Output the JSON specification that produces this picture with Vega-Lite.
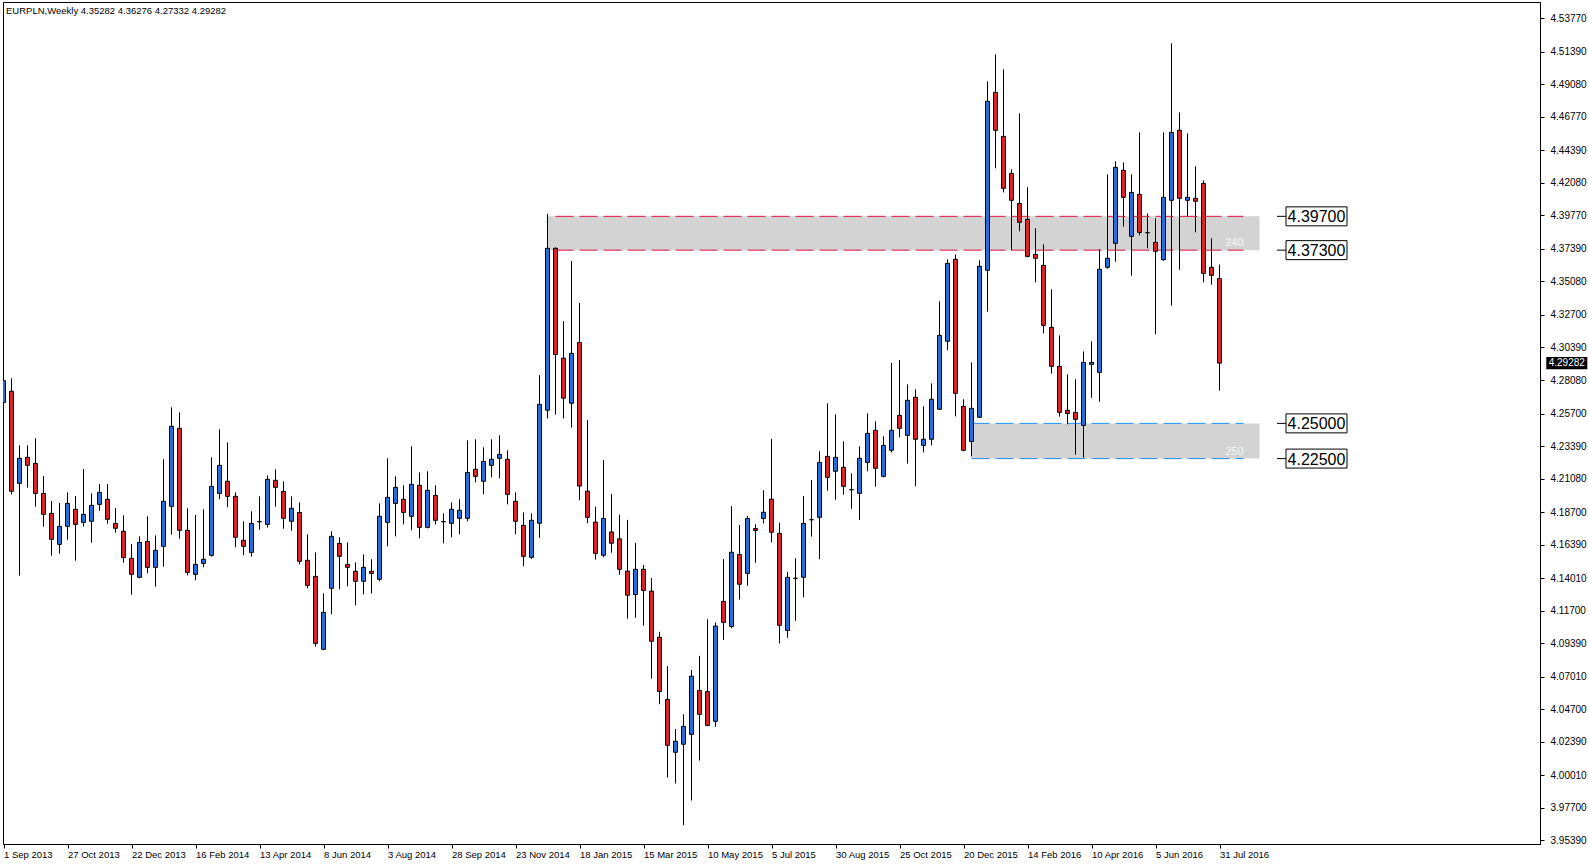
{
  "$schema": "https://vega.github.io/schema/vega-lite/v6.json",
  "width": 1537,
  "height": 842,
  "autosize": {"type": "none"},
  "padding": {"left": 3, "top": 2, "right": 48, "bottom": 22},
  "background": "white",
  "config": {
    "view": {"stroke": "black", "strokeWidth": 1},
    "font": "Liberation Sans",
    "axis": {"labelOverlap": false, "labelBound": false, "labelFlush": false, "grid": false, "tickColor": "black", "domainColor": "black", "labelColor": "black", "labelFont": "Liberation Sans", "tickSize": 4, "title": null, "tickCount": 100},
    "axisY": {"labelFontSize": 10, "labelPadding": 6},
    "axisX": {"labelFontSize": 9.5, "labelPadding": 1, "labelAlign": "left"}
  },
  "title": {"text": "EURPLN,Weekly  4.35282 4.36276 4.27332 4.29282", "anchor": "start", "frame": "group", "offset": -12, "dx": 3, "dy": 9, "fontSize": 9.5, "fontWeight": "normal", "font": "Liberation Sans", "color": "black", "baseline": "alphabetic"},
  "datasets": {
    "candles": [
      {"d":"2013-09-01","o":4.2649,"h":4.3092,"l":4.2465,"c":4.2803},
      {"d":"2013-09-08","o":4.2728,"h":4.2820,"l":4.1996,"c":4.2018},
      {"d":"2013-09-15","o":4.2074,"h":4.2344,"l":4.1419,"c":4.2252},
      {"d":"2013-09-22","o":4.2259,"h":4.2344,"l":4.2044,"c":4.2202},
      {"d":"2013-09-29","o":4.2216,"h":4.2394,"l":4.1909,"c":4.2003},
      {"d":"2013-10-06","o":4.2003,"h":4.2126,"l":4.1767,"c":4.1854},
      {"d":"2013-10-13","o":4.1861,"h":4.1949,"l":4.1561,"c":4.1677},
      {"d":"2013-10-20","o":4.1641,"h":4.1935,"l":4.1575,"c":4.1769},
      {"d":"2013-10-27","o":4.1769,"h":4.2010,"l":4.1674,"c":4.1932},
      {"d":"2013-11-03","o":4.1890,"h":4.1984,"l":4.1525,"c":4.1783},
      {"d":"2013-11-10","o":4.1797,"h":4.2176,"l":4.1767,"c":4.1854},
      {"d":"2013-11-17","o":4.1805,"h":4.2003,"l":4.1653,"c":4.1918},
      {"d":"2013-11-24","o":4.1925,"h":4.2070,"l":4.1880,"c":4.2010},
      {"d":"2013-12-01","o":4.1961,"h":4.2070,"l":4.1788,"c":4.1819},
      {"d":"2013-12-08","o":4.1790,"h":4.1899,"l":4.1724,"c":4.1755},
      {"d":"2013-12-15","o":4.1734,"h":4.1847,"l":4.1511,"c":4.1547},
      {"d":"2013-12-22","o":4.1542,"h":4.1644,"l":4.1284,"c":4.1428},
      {"d":"2013-12-29","o":4.1407,"h":4.1698,"l":4.1400,"c":4.1655},
      {"d":"2014-01-05","o":4.1662,"h":4.1840,"l":4.1435,"c":4.1478},
      {"d":"2014-01-12","o":4.1478,"h":4.1705,"l":4.1341,"c":4.1599},
      {"d":"2014-01-19","o":4.1627,"h":4.2245,"l":4.1483,"c":4.1947},
      {"d":"2014-01-26","o":4.1911,"h":4.2614,"l":4.1710,"c":4.2479},
      {"d":"2014-02-02","o":4.2465,"h":4.2578,"l":4.1681,"c":4.1741},
      {"d":"2014-02-09","o":4.1741,"h":4.1897,"l":4.1421,"c":4.1442},
      {"d":"2014-02-16","o":4.1428,"h":4.1850,"l":4.1386,"c":4.1499},
      {"d":"2014-02-23","o":4.1506,"h":4.1890,"l":4.1478,"c":4.1535},
      {"d":"2014-03-02","o":4.1563,"h":4.2259,"l":4.1555,"c":4.2053},
      {"d":"2014-03-09","o":4.2003,"h":4.2458,"l":4.1961,"c":4.2202},
      {"d":"2014-03-16","o":4.2089,"h":4.2365,"l":4.1904,"c":4.1982},
      {"d":"2014-03-23","o":4.1982,"h":4.2010,"l":4.1620,"c":4.1691},
      {"d":"2014-03-30","o":4.1670,"h":4.1805,"l":4.1563,"c":4.1627},
      {"d":"2014-04-06","o":4.1584,"h":4.1876,"l":4.1554,"c":4.1790},
      {"d":"2014-04-13","o":4.1802,"h":4.1982,"l":4.1745,"c":4.1802},
      {"d":"2014-04-20","o":4.1783,"h":4.2131,"l":4.1760,"c":4.2103},
      {"d":"2014-04-27","o":4.2096,"h":4.2174,"l":4.1909,"c":4.2046},
      {"d":"2014-05-04","o":4.2017,"h":4.2089,"l":4.1752,"c":4.1826},
      {"d":"2014-05-11","o":4.1805,"h":4.1982,"l":4.1738,"c":4.1897},
      {"d":"2014-05-18","o":4.1868,"h":4.1939,"l":4.1499,"c":4.1521},
      {"d":"2014-05-25","o":4.1528,"h":4.1712,"l":4.1329,"c":4.1350},
      {"d":"2014-06-01","o":4.1414,"h":4.1584,"l":4.0915,"c":4.0938},
      {"d":"2014-06-08","o":4.0896,"h":4.1293,"l":4.0890,"c":4.1158},
      {"d":"2014-06-15","o":4.1329,"h":4.1734,"l":4.1144,"c":4.1698},
      {"d":"2014-06-22","o":4.1648,"h":4.1691,"l":4.1322,"c":4.1556},
      {"d":"2014-06-29","o":4.1499,"h":4.1655,"l":4.1343,"c":4.1478},
      {"d":"2014-07-06","o":4.1450,"h":4.1513,"l":4.1208,"c":4.1379},
      {"d":"2014-07-13","o":4.1379,"h":4.1570,"l":4.1286,"c":4.1478},
      {"d":"2014-07-20","o":4.1450,"h":4.1535,"l":4.1293,"c":4.1435},
      {"d":"2014-07-27","o":4.1393,"h":4.1932,"l":4.1379,"c":4.1840},
      {"d":"2014-08-03","o":4.1797,"h":4.2252,"l":4.1627,"c":4.1975},
      {"d":"2014-08-10","o":4.1932,"h":4.2124,"l":4.1698,"c":4.2046},
      {"d":"2014-08-17","o":4.1961,"h":4.2060,"l":4.1783,"c":4.1868},
      {"d":"2014-08-24","o":4.1840,"h":4.2337,"l":4.1741,"c":4.2067},
      {"d":"2014-08-31","o":4.2060,"h":4.2152,"l":4.1684,"c":4.1762},
      {"d":"2014-09-07","o":4.1762,"h":4.2160,"l":4.1755,"c":4.2025},
      {"d":"2014-09-14","o":4.1989,"h":4.2060,"l":4.1783,"c":4.1812},
      {"d":"2014-09-21","o":4.1802,"h":4.1861,"l":4.1648,"c":4.1802},
      {"d":"2014-09-28","o":4.1790,"h":4.1939,"l":4.1691,"c":4.1890},
      {"d":"2014-10-05","o":4.1826,"h":4.1961,"l":4.1712,"c":4.1883},
      {"d":"2014-10-12","o":4.1826,"h":4.2380,"l":4.1805,"c":4.2152},
      {"d":"2014-10-19","o":4.2174,"h":4.2387,"l":4.2081,"c":4.2124},
      {"d":"2014-10-26","o":4.2089,"h":4.2330,"l":4.1996,"c":4.2230},
      {"d":"2014-11-02","o":4.2202,"h":4.2387,"l":4.2117,"c":4.2245},
      {"d":"2014-11-09","o":4.2252,"h":4.2415,"l":4.2110,"c":4.2280},
      {"d":"2014-11-16","o":4.2245,"h":4.2309,"l":4.1925,"c":4.1996},
      {"d":"2014-11-23","o":4.1947,"h":4.2010,"l":4.1712,"c":4.1805},
      {"d":"2014-11-30","o":4.1776,"h":4.1868,"l":4.1485,"c":4.1556},
      {"d":"2014-12-07","o":4.1549,"h":4.1861,"l":4.1538,"c":4.1812},
      {"d":"2014-12-14","o":4.1791,"h":4.2842,"l":4.1688,"c":4.2635},
      {"d":"2014-12-21","o":4.2594,"h":4.3987,"l":4.2535,"c":4.3743},
      {"d":"2014-12-28","o":4.3743,"h":4.3750,"l":4.2563,"c":4.2989},
      {"d":"2015-01-04","o":4.2963,"h":4.3226,"l":4.2535,"c":4.2679},
      {"d":"2015-01-11","o":4.2643,"h":4.3652,"l":4.2470,"c":4.2997},
      {"d":"2015-01-18","o":4.3074,"h":4.3355,"l":4.1954,"c":4.2055},
      {"d":"2015-01-25","o":4.2019,"h":4.2524,"l":4.1791,"c":4.1833},
      {"d":"2015-02-01","o":4.1799,"h":4.1908,"l":4.1533,"c":4.1577},
      {"d":"2015-02-08","o":4.1564,"h":4.2240,"l":4.1549,"c":4.1825},
      {"d":"2015-02-15","o":4.1729,"h":4.1998,"l":4.1582,"c":4.1649},
      {"d":"2015-02-22","o":4.1680,"h":4.1851,"l":4.1425,"c":4.1464},
      {"d":"2015-03-01","o":4.1451,"h":4.1815,"l":4.1113,"c":4.1280},
      {"d":"2015-03-08","o":4.1285,"h":4.1652,"l":4.1120,"c":4.1464},
      {"d":"2015-03-15","o":4.1464,"h":4.1495,"l":4.1064,"c":4.1314},
      {"d":"2015-03-22","o":4.1309,"h":4.1402,"l":4.0687,"c":4.0953},
      {"d":"2015-03-29","o":4.0981,"h":4.1020,"l":4.0506,"c":4.0596},
      {"d":"2015-04-05","o":4.0540,"h":4.0777,"l":3.9985,"c":4.0214},
      {"d":"2015-04-12","o":4.0165,"h":4.0330,"l":3.9943,"c":4.0243},
      {"d":"2015-04-19","o":4.0222,"h":4.0436,"l":3.9647,"c":4.0349},
      {"d":"2015-04-26","o":4.0292,"h":4.0749,"l":3.9822,"c":4.0705},
      {"d":"2015-05-03","o":4.0604,"h":4.0849,"l":4.0106,"c":4.0434},
      {"d":"2015-05-10","o":4.0596,"h":4.1110,"l":4.0349,"c":4.0356},
      {"d":"2015-05-17","o":4.0385,"h":4.1087,"l":4.0346,"c":4.1061},
      {"d":"2015-05-24","o":4.1236,"h":4.1536,"l":4.0963,"c":4.1087},
      {"d":"2015-05-31","o":4.1058,"h":4.1913,"l":4.1045,"c":4.1585},
      {"d":"2015-06-07","o":4.1569,"h":4.1778,"l":4.1249,"c":4.1358},
      {"d":"2015-06-14","o":4.1435,"h":4.1843,"l":4.1347,"c":4.1825},
      {"d":"2015-06-21","o":4.1753,"h":4.1784,"l":4.1510,"c":4.1740},
      {"d":"2015-06-28","o":4.1825,"h":4.2026,"l":4.1789,"c":4.1869},
      {"d":"2015-07-05","o":4.1962,"h":4.2390,"l":4.1655,"c":4.1727},
      {"d":"2015-07-12","o":4.1719,"h":4.1794,"l":4.0937,"c":4.1066},
      {"d":"2015-07-19","o":4.1030,"h":4.1446,"l":4.0978,"c":4.1407},
      {"d":"2015-07-26","o":4.1400,"h":4.1542,"l":4.1099,"c":4.1400},
      {"d":"2015-08-02","o":4.1407,"h":4.1984,"l":4.1265,"c":4.1790},
      {"d":"2015-08-09","o":4.1816,"h":4.2098,"l":4.1696,"c":4.1816},
      {"d":"2015-08-16","o":4.1833,"h":4.2302,"l":4.1535,"c":4.2223},
      {"d":"2015-08-23","o":4.2266,"h":4.2642,"l":4.2022,"c":4.2117},
      {"d":"2015-08-30","o":4.2160,"h":4.2564,"l":4.1958,"c":4.2259},
      {"d":"2015-09-06","o":4.2188,"h":4.2372,"l":4.1994,"c":4.2053},
      {"d":"2015-09-13","o":4.2029,"h":4.2145,"l":4.1894,"c":4.2029},
      {"d":"2015-09-20","o":4.2003,"h":4.2337,"l":4.1814,"c":4.2252},
      {"d":"2015-09-27","o":4.2223,"h":4.2571,"l":4.2160,"c":4.2429},
      {"d":"2015-10-04","o":4.2451,"h":4.2515,"l":4.2051,"c":4.2181},
      {"d":"2015-10-11","o":4.2124,"h":4.2408,"l":4.2117,"c":4.2344},
      {"d":"2015-10-18","o":4.2309,"h":4.2929,"l":4.2294,"c":4.2451},
      {"d":"2015-10-25","o":4.2557,"h":4.2950,"l":4.2401,"c":4.2465},
      {"d":"2015-11-01","o":4.2415,"h":4.2777,"l":4.2214,"c":4.2664},
      {"d":"2015-11-08","o":4.2685,"h":4.2742,"l":4.2053,"c":4.2387},
      {"d":"2015-11-15","o":4.2344,"h":4.2621,"l":4.2294,"c":4.2387},
      {"d":"2015-11-22","o":4.2387,"h":4.2784,"l":4.2344,"c":4.2671},
      {"d":"2015-11-29","o":4.2600,"h":4.3367,"l":4.2595,"c":4.3125},
      {"d":"2015-12-06","o":4.3083,"h":4.3665,"l":4.3019,"c":4.3636},
      {"d":"2015-12-13","o":4.3665,"h":4.3700,"l":4.2550,"c":4.2713},
      {"d":"2015-12-20","o":4.2621,"h":4.2671,"l":4.2302,"c":4.2309},
      {"d":"2015-12-27","o":4.2372,"h":4.2933,"l":4.2266,"c":4.2607},
      {"d":"2016-01-03","o":4.2543,"h":4.3658,"l":4.2540,"c":4.3615},
      {"d":"2016-01-10","o":4.3587,"h":4.4929,"l":4.3293,"c":4.4787},
      {"d":"2016-01-17","o":4.4850,"h":4.5120,"l":4.4311,"c":4.4581},
      {"d":"2016-01-24","o":4.4538,"h":4.5014,"l":4.4140,"c":4.4169},
      {"d":"2016-01-31","o":4.4275,"h":4.4304,"l":4.3729,"c":4.4084},
      {"d":"2016-02-07","o":4.4062,"h":4.4701,"l":4.3864,"c":4.3928},
      {"d":"2016-02-14","o":4.3949,"h":4.4176,"l":4.3679,"c":4.3686},
      {"d":"2016-02-21","o":4.3700,"h":4.3885,"l":4.3501,"c":4.3672},
      {"d":"2016-02-28","o":4.3622,"h":4.3771,"l":4.3139,"c":4.3196},
      {"d":"2016-03-06","o":4.3182,"h":4.3452,"l":4.2853,"c":4.2905},
      {"d":"2016-03-13","o":4.2905,"h":4.3125,"l":4.2548,"c":4.2578},
      {"d":"2016-03-20","o":4.2593,"h":4.2848,"l":4.2493,"c":4.2571},
      {"d":"2016-03-27","o":4.2578,"h":4.2813,"l":4.2278,"c":4.2529},
      {"d":"2016-04-03","o":4.2486,"h":4.3011,"l":4.2257,"c":4.2933},
      {"d":"2016-04-10","o":4.2919,"h":4.3082,"l":4.2682,"c":4.2933},
      {"d":"2016-04-17","o":4.2862,"h":4.3736,"l":4.2654,"c":4.3594},
      {"d":"2016-04-24","o":4.3608,"h":4.4268,"l":4.3598,"c":4.3672},
      {"d":"2016-05-01","o":4.3778,"h":4.4361,"l":4.3648,"c":4.4318},
      {"d":"2016-05-08","o":4.4297,"h":4.4353,"l":4.3897,"c":4.4105},
      {"d":"2016-05-15","o":4.3828,"h":4.4268,"l":4.3549,"c":4.4140},
      {"d":"2016-05-22","o":4.4126,"h":4.4566,"l":4.3835,"c":4.3856},
      {"d":"2016-05-29","o":4.3854,"h":4.3991,"l":4.3743,"c":4.3854},
      {"d":"2016-06-05","o":4.3785,"h":4.3956,"l":4.3132,"c":4.3722},
      {"d":"2016-06-12","o":4.3662,"h":4.4566,"l":4.3655,"c":4.4105},
      {"d":"2016-06-19","o":4.4084,"h":4.5198,"l":4.3336,"c":4.4566},
      {"d":"2016-06-26","o":4.4581,"h":4.4708,"l":4.3591,"c":4.4098},
      {"d":"2016-07-03","o":4.4084,"h":4.4559,"l":4.3970,"c":4.4105},
      {"d":"2016-07-10","o":4.4098,"h":4.4325,"l":4.3856,"c":4.4077},
      {"d":"2016-07-17","o":4.4204,"h":4.4226,"l":4.3501,"c":4.3565},
      {"d":"2016-07-24","o":4.3608,"h":4.3814,"l":4.3485,"c":4.3551},
      {"d":"2016-07-31","o":4.35282,"h":4.36276,"l":4.27332,"c":4.29282}
    ],
    "zones": [
      {"s":"2014-12-21","e":"2016-09-04","ls":"2014-12-28","le":"2016-08-21","lo":4.373,"hi":4.397,"pts":"240","z":"a"},
      {"s":"2015-12-27","e":"2016-09-04","ls":"2015-12-27","le":"2016-08-21","lo":4.225,"hi":4.25,"pts":"250","z":"b"}
    ],
    "last": [{"p":4.29282}]
  },
  "layer": [
    {
      "data": {"name": "zones"},
      "mark": {"type": "rect", "fill": "#d3d3d3"},
      "encoding": {
        "x": {"field": "s", "type": "temporal", "title": null, "scale": {"type": "utc", "domain": [1377955800000, 1494153000000], "nice": false, "padding": 0}},
        "x2": {"field": "e"},
        "y": {"field": "lo", "type": "quantitative", "title": null, "scale": {"domain": [3.95136, 4.54918], "nice": false, "zero": false, "padding": 0}, "axis": {"orient": "right"}},
        "y2": {"field": "hi"}
      }
    },
    {
      "data": {"name": "zones"},
      "transform": [{"fold": ["lo", "hi"], "as": ["k", "p"]}],
      "mark": {"type": "rule", "strokeDash": [18, 6], "strokeWidth": 1},
      "encoding": {
        "x": {"field": "ls", "type": "temporal", "title": null, "scale": {"type": "utc", "domain": [1377955800000, 1494153000000], "nice": false, "padding": 0}},
        "x2": {"field": "le"},
        "y": {"field": "p", "type": "quantitative", "title": null, "scale": {"domain": [3.95136, 4.54918], "nice": false, "zero": false, "padding": 0}, "axis": {"orient": "right"}},
        "stroke": {"field": "z", "type": "nominal", "scale": {"domain": ["a", "b"], "range": ["#dc143c", "#1e90ff"]}, "legend": null}
      }
    },
    {
      "data": {"name": "zones"},
      "mark": {"type": "text", "align": "right", "baseline": "bottom", "dy": -2, "fontSize": 11, "color": "#f6f6f6", "font": "Liberation Sans"},
      "encoding": {
        "x": {"field": "le", "type": "temporal", "title": null, "scale": {"type": "utc", "domain": [1377955800000, 1494153000000], "nice": false, "padding": 0}},
        "y": {"field": "lo", "type": "quantitative", "title": null, "scale": {"domain": [3.95136, 4.54918], "nice": false, "zero": false, "padding": 0}, "axis": {"orient": "right"}},
        "text": {"field": "pts"}
      }
    },
    {
      "data": {"name": "candles"},
      "mark": {"type": "rule", "clip": true, "color": "black", "strokeWidth": 1},
      "encoding": {
        "x": {"field": "d", "type": "temporal", "title": null,
          "scale": {"type": "utc", "domain": [1377955800000, 1494153000000], "nice": false, "padding": 0},
          "axis": {"values": [1377993600000, 1382832000000, 1387670400000, 1392508800000, 1397347200000, 1402185600000, 1407024000000, 1411862400000, 1416700800000, 1421539200000, 1426377600000, 1431216000000, 1436054400000, 1440892800000, 1445731200000, 1450569600000, 1455408000000, 1460246400000, 1465084800000, 1469923200000],
            "format": "%-d %b %Y", "labelAlign": "left", "labelOverlap": false, "tickCount": 100}},
        "y": {"field": "l", "type": "quantitative", "title": null,
          "scale": {"domain": [3.95136, 4.54918], "nice": false, "zero": false, "padding": 0},
          "axis": {"orient": "right", "values": [4.5377, 4.5139, 4.4908, 4.4677, 4.4439, 4.4208, 4.3977, 4.3739, 4.3508, 4.327, 4.3039, 4.2808, 4.257, 4.2339, 4.2108, 4.187, 4.1639, 4.1401, 4.117, 4.0939, 4.0701, 4.047, 4.0239, 4.0001, 3.977, 3.9539],
            "format": ".5f", "labelOverlap": false, "tickCount": 100}},
        "y2": {"field": "h"}
      }
    },
    {
      "data": {"name": "candles"},
      "mark": {"type": "bar", "clip": true, "size": 4, "stroke": "black", "strokeWidth": 1},
      "encoding": {
        "x": {"field": "d", "type": "temporal", "title": null, "scale": {"type": "utc", "domain": [1377955800000, 1494153000000], "nice": false, "padding": 0}},
        "y": {"field": "o", "type": "quantitative", "title": null, "scale": {"domain": [3.95136, 4.54918], "nice": false, "zero": false, "padding": 0}, "axis": {"orient": "right"}},
        "y2": {"field": "c"},
        "fill": {"condition": {"test": "datum.c >= datum.o", "value": "#1f6fdc"}, "value": "#dc2228"}
      }
    },
    {
      "data": {"name": "zones"},
      "transform": [{"fold": ["lo", "hi"], "as": ["k", "p"]}],
      "mark": {"type": "rule", "color": "black", "strokeWidth": 1},
      "encoding": {
        "x": {"datum": 1474270200000, "type": "temporal", "scale": {"type": "utc", "domain": [1377955800000, 1494153000000], "nice": false, "padding": 0}},
        "x2": {"datum": 1474950600000},
        "y": {"field": "p", "type": "quantitative", "title": null, "scale": {"domain": [3.95136, 4.54918], "nice": false, "zero": false, "padding": 0}, "axis": {"orient": "right"}}
      }
    },
    {
      "data": {"name": "zones"},
      "transform": [{"fold": ["lo", "hi"], "as": ["k", "p"]}],
      "mark": {"type": "point", "shape": "M-1,-0.311L1,-0.311L1,0.311L-1,0.311Z", "size": 3721, "filled": true, "fill": "white", "stroke": "black", "strokeWidth": 1, "opacity": 1},
      "encoding": {
        "x": {"datum": 1477256400000, "type": "temporal", "scale": {"type": "utc", "domain": [1377955800000, 1494153000000], "nice": false, "padding": 0}},
        "y": {"field": "p", "type": "quantitative", "title": null, "scale": {"domain": [3.95136, 4.54918], "nice": false, "zero": false, "padding": 0}, "axis": {"orient": "right"}}
      }
    },
    {
      "data": {"name": "zones"},
      "transform": [{"fold": ["lo", "hi"], "as": ["k", "p"]}],
      "mark": {"type": "text", "fontSize": 16, "font": "Liberation Sans", "color": "black", "baseline": "middle", "align": "center", "dy": 1},
      "encoding": {
        "x": {"datum": 1477256400000, "type": "temporal", "scale": {"type": "utc", "domain": [1377955800000, 1494153000000], "nice": false, "padding": 0}},
        "y": {"field": "p", "type": "quantitative", "title": null, "scale": {"domain": [3.95136, 4.54918], "nice": false, "zero": false, "padding": 0}, "axis": {"orient": "right"}},
        "text": {"field": "p", "type": "quantitative", "format": ".5f"}
      }
    },
    {
      "data": {"name": "last"},
      "mark": {"type": "point", "shape": "M-1,-0.26L1,-0.26L1,0.26L-1,0.26Z", "size": 1521, "filled": true, "fill": "black", "stroke": "black", "opacity": 1},
      "encoding": {
        "x": {"datum": 1496179080000, "type": "temporal", "scale": {"type": "utc", "domain": [1377955800000, 1494153000000], "nice": false, "padding": 0}},
        "y": {"field": "p", "type": "quantitative", "title": null, "scale": {"domain": [3.95136, 4.54918], "nice": false, "zero": false, "padding": 0}, "axis": {"orient": "right"}}
      }
    },
    {
      "data": {"name": "last"},
      "mark": {"type": "text", "fontSize": 10, "font": "Liberation Sans", "color": "white", "baseline": "middle", "align": "center"},
      "encoding": {
        "x": {"datum": 1496179080000, "type": "temporal", "scale": {"type": "utc", "domain": [1377955800000, 1494153000000], "nice": false, "padding": 0}},
        "y": {"field": "p", "type": "quantitative", "title": null, "scale": {"domain": [3.95136, 4.54918], "nice": false, "zero": false, "padding": 0}, "axis": {"orient": "right"}},
        "text": {"field": "p", "type": "quantitative", "format": ".5f"}
      }
    }
  ]
}
